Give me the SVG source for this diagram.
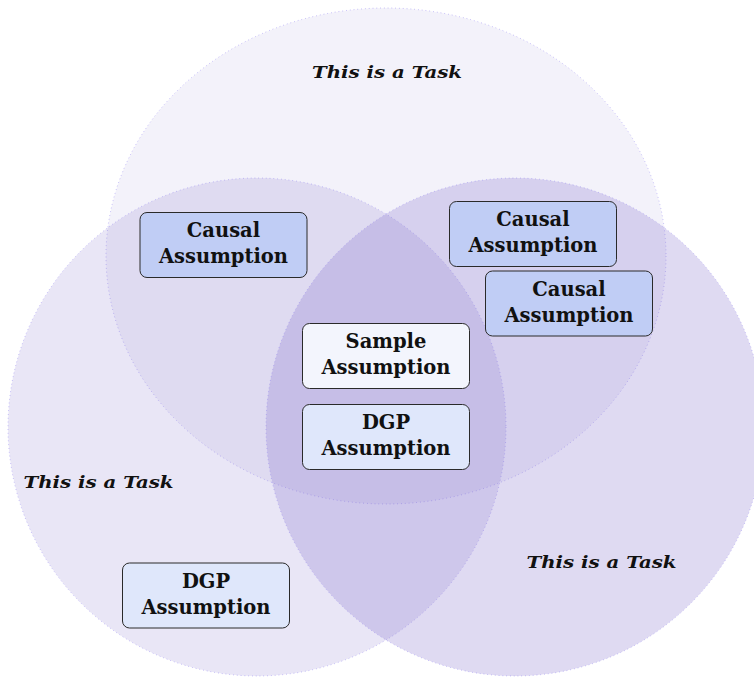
<svg xmlns="http://www.w3.org/2000/svg" width="754" height="678" viewBox="0 0 754 678">
<style>
.set{stroke:#8878f0;stroke-opacity:0.7;stroke-width:0.8;stroke-dasharray:0.8 3}
.box{stroke:#2a2a2a;stroke-width:1}
.causal{fill:#c0cdf5}
.dgp{fill:#dfe7fb}
.sample{fill:#f3f5fd}
.bt{font-family:"DejaVu Serif",serif;font-weight:bold;font-size:19.5px;fill:#111;text-anchor:middle}
.task{font-family:"DejaVu Serif",serif;font-weight:bold;font-style:italic;font-size:17px;fill:#111;text-anchor:middle}
</style>
<rect width="754" height="678" fill="#fff"/>
<g id="sets">
<ellipse id="set-top" class="set" cx="386" cy="256" rx="280" ry="248" fill="rgb(120,100,200)" fill-opacity="0.085"/>
<circle id="set-left" class="set" cx="257" cy="427" r="249" fill="rgb(120,100,200)" fill-opacity="0.16"/>
<circle id="set-right" class="set" cx="515" cy="427" r="249" fill="rgb(120,100,200)" fill-opacity="0.24"/>
</g>
<g id="labels">
<text class="task" x="387" y="78" textLength="150" lengthAdjust="spacingAndGlyphs">This is a Task</text>
<text class="task" x="98.5" y="488" textLength="150" lengthAdjust="spacingAndGlyphs">This is a Task</text>
<text class="task" x="601.5" y="568" textLength="150" lengthAdjust="spacingAndGlyphs">This is a Task</text>
</g>
<g id="causal1"><rect class="box causal" x="140" y="212.5" width="167" height="65" rx="7"/><text class="bt" x="223.5" y="237">Causal</text><text class="bt" x="223.5" y="263">Assumption</text></g>
<g id="causal2"><rect class="box causal" x="449.5" y="201.5" width="167" height="65" rx="7"/><text class="bt" x="533" y="226">Causal</text><text class="bt" x="533" y="252">Assumption</text></g>
<g id="causal3"><rect class="box causal" x="485.5" y="271" width="167" height="65" rx="7"/><text class="bt" x="569" y="296">Causal</text><text class="bt" x="569" y="322">Assumption</text></g>
<g id="sample"><rect class="box sample" x="302.5" y="323.5" width="167" height="65" rx="7"/><text class="bt" x="386" y="348">Sample</text><text class="bt" x="386" y="374">Assumption</text></g>
<g id="dgp1"><rect class="box dgp" x="302.5" y="404.5" width="167" height="65" rx="7"/><text class="bt" x="386" y="429">DGP</text><text class="bt" x="386" y="455">Assumption</text></g>
<g id="dgp2"><rect class="box dgp" x="122.5" y="563" width="167" height="65" rx="7"/><text class="bt" x="206" y="588">DGP</text><text class="bt" x="206" y="614">Assumption</text></g>
<g id="connectors"></g>
</svg>
